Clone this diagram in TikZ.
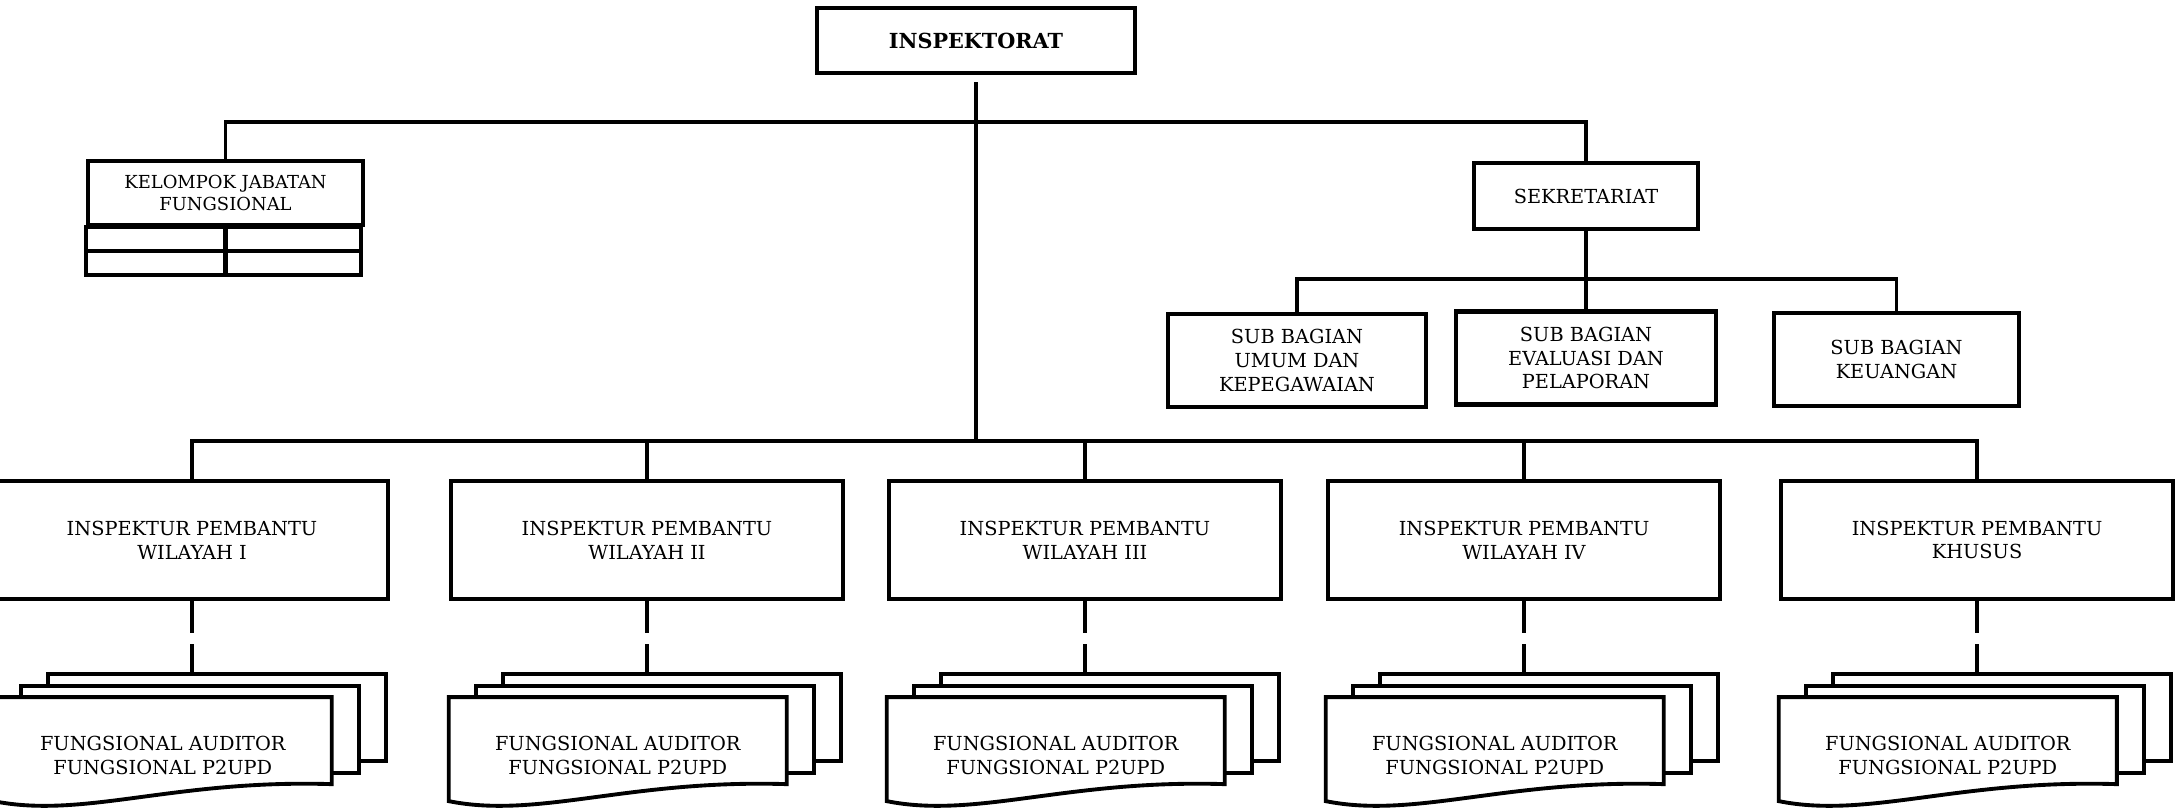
\documentclass[tikz,border=0pt]{standalone}
\usepackage{fontspec}
\setmainfont{DejaVu Serif}
\usetikzlibrary{calc, positioning}

\begin{document}
\begin{tikzpicture}[x=0.01cm, y=-0.01cm,
	unit/.style={draw, line width=1.2pt, align=center, inner sep=0pt, font=\fontsize{5.5}{6.8}\selectfont},
	ipbox/.style={unit, minimum width=3.92cm, minimum height=1.18cm},
	subbox/.style={unit, minimum height=0.93cm},
	link/.style={line width=0.9pt},
	dashlink/.style={line width=1pt, dash pattern=on 9.1pt off 3.1pt},
	stack/.pic={
		\draw[line width=1.1pt, fill=white] (54,-23) rectangle (392,64);
		\draw[line width=1.1pt, fill=white] (27,-11) rectangle (365,76);
		\draw[line width=1.1pt, fill=white] (0,0) -- (338,0) -- (338,87) .. controls (180,82) and (90,122) .. (0,104) -- cycle;
		\node[align=center, font=\fontsize{5.5}{6.8}\selectfont] (-txt) at (169,58) {FUNGSIONAL AUDITOR\\FUNGSIONAL P2UPD};
		\coordinate (-top) at (196,-23);
	}]

		\path[fill=white, use as bounding box] (0,0) rectangle (2183,810);

		% nodes - top part %
		\node[unit, minimum width=3.18cm, minimum height=0.65cm, font=\bfseries\fontsize{5.9}{7}\selectfont] (insp) at (976,40.5) {INSPEKTORAT};
		\node[unit, minimum width=2.75cm, minimum height=0.64cm, font=\fontsize{5.1}{6.1}\selectfont] (kjf) at (225.5,193) {KELOMPOK JABATAN\\FUNGSIONAL};
		\node[unit, minimum width=2.24cm, minimum height=0.66cm] (sek) at (1586,196) {SEKRETARIAT};

		% nodes - sub bagian %
		\node[subbox, minimum width=2.58cm] (sub1) at (1297,360.5) {SUB BAGIAN\\UMUM DAN\\KEPEGAWAIAN};
		\node[subbox, minimum width=2.60cm] (sub2) at (1586,358) {SUB BAGIAN\\EVALUASI DAN\\PELAPORAN};
		\node[subbox, minimum width=2.45cm] (sub3) at (1896.5,359.5) {SUB BAGIAN\\KEUANGAN};

		% nodes - inspektur pembantu %
		\node[ipbox] (ip1) at (192,540) {INSPEKTUR PEMBANTU\\WILAYAH I};
		\node[ipbox] (ip2) at (647,540) {INSPEKTUR PEMBANTU\\WILAYAH II};
		\node[ipbox] (ip3) at (1085,540) {INSPEKTUR PEMBANTU\\WILAYAH III};
		\node[ipbox] (ip4) at (1524,540) {INSPEKTUR PEMBANTU\\WILAYAH IV};
		\node[ipbox] (ip5) at (1977,540) {INSPEKTUR PEMBANTU\\KHUSUS};

		% stacks %
		\pic (fs1) at ($(ip1.south west)+(0,96)$) {stack};
		\pic (fs2) at ($(ip2.south west)+(0,96)$) {stack};
		\pic (fs3) at ($(ip3.south west)+(0,96)$) {stack};
		\pic (fs4) at ($(ip4.south west)+(0,96)$) {stack};
		\pic (fs5) at ($(ip5.south west)+(0,96)$) {stack};

		% kjf table rows %
		\draw[line width=1.2pt] (kjf.south west) rectangle ++(275,48);
		\draw[line width=1.2pt] (kjf.south west) ++(0,24) -- ++(275,0);
		\draw[line width=1.2pt] (kjf.south) -- ++(0,48);

		% edges %
		\coordinate (topbus) at (976,122);
		\coordinate (bus) at (976,441);
		\coordinate (subbus) at (1586,279);

		\draw[link, shorten <=2pt] (insp.south) -- (bus);
		\draw[link] (kjf.north) |- (topbus) -| (sek.north);
		\draw[link] (sek.south) -- (sub2.north);
		\draw[link] (sub1.north) |- (subbus) -| (sub3.north);
		\draw[link] (ip1.north) |- (bus) -| (ip5.north);
		\draw[link] (ip2.north) -- (ip2.north |- bus);
		\draw[link] (ip3.north) -- (ip3.north |- bus);
		\draw[link] (ip4.north) -- (ip4.north |- bus);

		\draw[dashlink] (ip1.south) -- (ip1.south |- fs1-top);
		\draw[dashlink] (ip2.south) -- (ip2.south |- fs2-top);
		\draw[dashlink] (ip3.south) -- (ip3.south |- fs3-top);
		\draw[dashlink] (ip4.south) -- (ip4.south |- fs4-top);
		\draw[dashlink] (ip5.south) -- (ip5.south |- fs5-top);

\end{tikzpicture}
\end{document}
